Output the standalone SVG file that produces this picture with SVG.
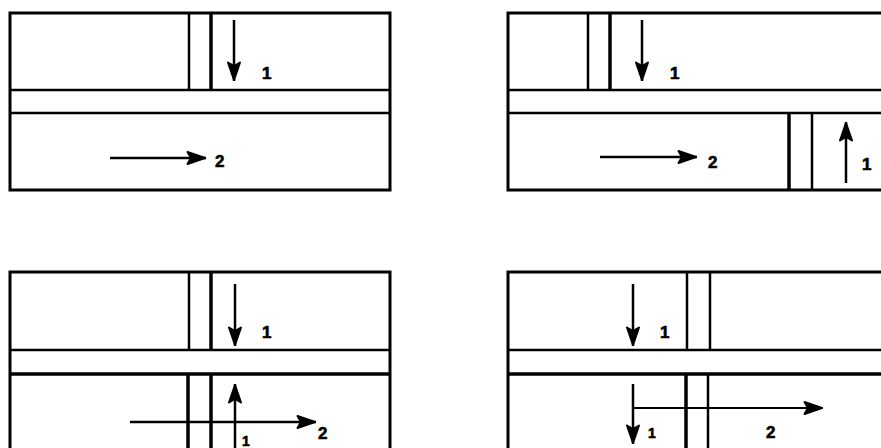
<svg xmlns="http://www.w3.org/2000/svg" width="881" height="448" viewBox="0 0 881 448">
<style>
.box{fill:none;stroke:#000;stroke-width:3}
.ln{stroke:#000;stroke-width:2.5;fill:none}
.th{stroke:#000;stroke-width:3.5;fill:none}
.ar{stroke:#000;stroke-width:2.5;fill:none;marker-end:url(#ah)}
.lb{font-family:"Liberation Sans",Arial,sans-serif;font-weight:bold;font-size:17px;fill:#000;stroke:#000;stroke-width:0.6}
.sm{font-size:14px}
</style>
<defs>
<marker id="ah" markerUnits="userSpaceOnUse" markerWidth="22" markerHeight="18" viewBox="0 0 22 18" refX="20" refY="9" orient="auto">
<path d="M1.5,3 L19,9 L1.5,15 L5,9 Z" fill="#000" stroke="#000" stroke-width="2" stroke-linejoin="round"/>
</marker>
</defs>
<rect width="881" height="448" fill="#fff"/>
<g id="panel-a">
<rect class="box" x="10" y="13" width="380" height="177"/>
<line class="ln" x1="10" y1="90" x2="390" y2="90"/>
<line class="ln" x1="10" y1="113" x2="390" y2="113"/>
<line class="ln" x1="189" y1="13" x2="189" y2="90"/>
<line class="th" x1="211" y1="13" x2="211" y2="90"/>
</g>
<g id="panel-b">
<rect class="box" x="508" y="13" width="400" height="177"/>
<line class="ln" x1="508" y1="90" x2="890" y2="90"/>
<line class="ln" x1="508" y1="113" x2="890" y2="113"/>
<line class="ln" x1="588" y1="13" x2="588" y2="90"/>
<line class="th" x1="610" y1="13" x2="610" y2="90"/>
<line class="th" x1="789" y1="113" x2="789" y2="190"/>
<line class="ln" x1="812" y1="113" x2="812" y2="190"/>
</g>
<g id="panel-c">
<rect class="box" x="10" y="272" width="380" height="200"/>
<line class="ln" x1="10" y1="350" x2="390" y2="350"/>
<line class="th" x1="10" y1="374" x2="390" y2="374"/>
<line class="ln" x1="189" y1="272" x2="189" y2="350"/>
<line class="th" x1="211" y1="272" x2="211" y2="350"/>
<line class="th" x1="188" y1="374" x2="188" y2="450"/>
<line class="th" x1="211" y1="374" x2="211" y2="450"/>
</g>
<g id="panel-d">
<rect class="box" x="508" y="272" width="400" height="200"/>
<line class="ln" x1="508" y1="350" x2="890" y2="350"/>
<line class="th" x1="508" y1="374" x2="890" y2="374"/>
<line class="ln" x1="687" y1="272" x2="687" y2="350"/>
<line class="ln" x1="710" y1="272" x2="710" y2="350"/>
<line class="th" x1="686" y1="374" x2="686" y2="450"/>
<line class="ln" x1="708" y1="374" x2="708" y2="450"/>
</g>
<g id="connectors">
<line class="ar" x1="234" y1="20" x2="234" y2="81"/>
<line class="ar" x1="110" y1="158" x2="206" y2="158"/>
<line class="ar" x1="642" y1="20" x2="642" y2="81"/>
<line class="ar" x1="600" y1="157" x2="697" y2="157"/>
<line class="ar" x1="846" y1="183" x2="846" y2="122"/>
<line class="ar" x1="235" y1="284" x2="235" y2="346"/>
<line class="ar" x1="235" y1="450" x2="235" y2="384"/>
<line class="ar" x1="130" y1="422" x2="316" y2="422"/>
<line class="ar" x1="633" y1="284" x2="633" y2="346"/>
<line class="ar" x1="633" y1="384" x2="633" y2="444"/>
<line class="ar" x1="634" y1="408" x2="823" y2="408" style="stroke-width:2"/>
</g>
<g id="labels">
<text class="lb" x="262" y="79">1</text>
<text class="lb" x="215" y="167">2</text>
<text class="lb" x="670" y="79">1</text>
<text class="lb" x="708" y="168">2</text>
<text class="lb" x="862" y="170">1</text>
<text class="lb" x="262" y="338">1</text>
<text class="lb" x="318" y="439">2</text>
<text class="lb sm" x="242" y="446">1</text>
<text class="lb" x="660" y="338">1</text>
<text class="lb sm" x="648" y="438">1</text>
<text class="lb" x="766" y="438">2</text>
</g>
</svg>
